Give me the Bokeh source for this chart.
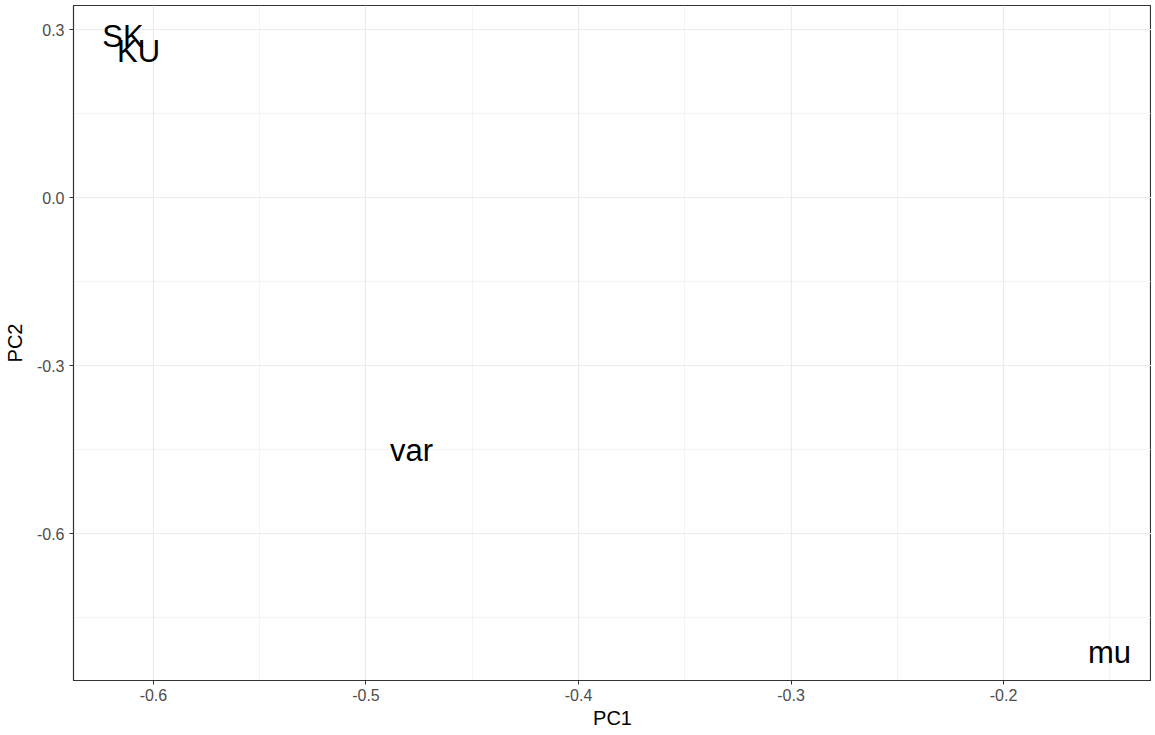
from bokeh.plotting import figure
from bokeh.models import Range1d, FixedTicker, ColumnDataSource
from bokeh.core.properties import value
from bokeh.embed import file_html
from bokeh.resources import INLINE

labels = ["SK", "KU", "var", "mu"]
pc1 = [-0.6143, -0.6070, -0.4785, -0.1502]
pc2 = [0.2881, 0.2607, -0.4510, -0.8130]

x_ticks = [-0.6, -0.5, -0.4, -0.3, -0.2]
x_minor = [-0.65, -0.55, -0.45, -0.35, -0.25, -0.15]
y_ticks = [0.3, 0.0, -0.3, -0.6]
y_minor = [0.15, -0.15, -0.45, -0.75]

FONT = "Liberation Sans"

p = figure(width=1151, height=731, output_backend="svg", toolbar_location=None,
           x_range=Range1d(-0.6376, -0.1304), y_range=Range1d(-0.8625, 0.3429),
           min_border_left=70, min_border_right=0, min_border_top=5, min_border_bottom=40)

p.background_fill_color = "white"
p.border_fill_color = "white"
p.outline_line_color = "#333333"
p.outline_line_width = 1.2

p.xaxis.ticker = FixedTicker(ticks=x_ticks, minor_ticks=x_minor)
p.yaxis.ticker = FixedTicker(ticks=y_ticks, minor_ticks=y_minor)
p.yaxis.major_label_overrides = {0.3: "0.3", 0.0: "0.0", -0.3: "-0.3", -0.6: "-0.6"}
p.xaxis.major_label_overrides = {-0.6: "-0.6", -0.5: "-0.5", -0.4: "-0.4", -0.3: "-0.3", -0.2: "-0.2"}

for ax in (p.xaxis, p.yaxis):
    ax.axis_line_color = "#333333"
    ax.major_tick_line_color = "#333333"
    ax.major_tick_out = 4
    ax.major_tick_in = 0
    ax.minor_tick_line_color = None
    ax.major_label_text_font = FONT
    ax.major_label_text_font_size = "16px"
    ax.major_label_text_color = "#4D4D4D"
    ax.axis_label_text_font = FONT
    ax.axis_label_text_font_size = "20px"
    ax.axis_label_text_font_style = "normal"
    ax.axis_label_text_color = "black"

p.xaxis.axis_label = "PC1"
p.yaxis.axis_label = "PC2"
p.xaxis.major_label_standoff = 4
p.yaxis.major_label_standoff = 5
p.xaxis.axis_label_standoff = 3
p.yaxis.axis_label_standoff = 8

for g in (p.xgrid, p.ygrid):
    g.grid_line_color = "#EBEBEB"
    g.grid_line_width = 1.2
    g.minor_grid_line_color = "#EBEBEB"
    g.minor_grid_line_width = 0.6
p.xgrid.ticker = p.xaxis.ticker
p.ygrid.ticker = p.yaxis.ticker

src = ColumnDataSource(dict(x=pc1, y=pc2, label=labels))
p.text(x="x", y="y", text="label", source=src, text_align="center",
       text_baseline="middle", text_font=value(FONT), text_font_size="31px",
       text_color="black")

open("out.html", "w").write(file_html(p, INLINE))
